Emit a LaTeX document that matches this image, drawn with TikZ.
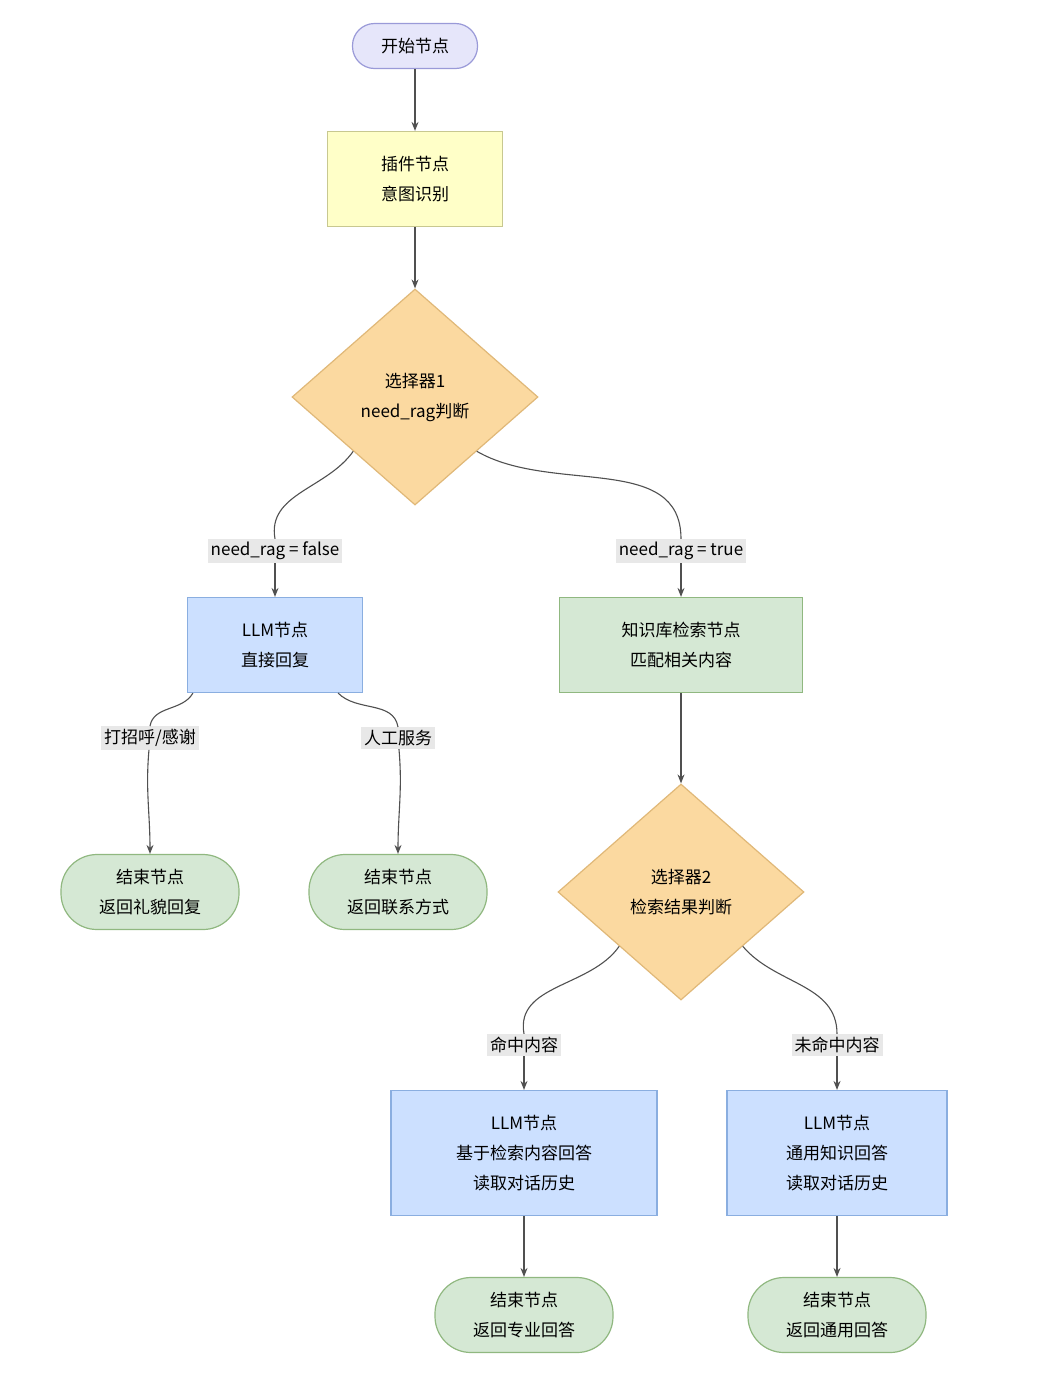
\documentclass[tikz,border=0pt]{standalone}
\usepackage{fontspec}
\setmainfont{Noto Sans CJK SC}
\usetikzlibrary{shapes.geometric,arrows.meta}
\definecolor{lavfill}{HTML}{E6E6FA}
\definecolor{lavline}{HTML}{9A9AD8}
\definecolor{yelfill}{HTML}{FFFFC8}
\definecolor{yelline}{HTML}{C8C890}
\definecolor{orgfill}{HTML}{FBD9A0}
\definecolor{orgline}{HTML}{E0B878}
\definecolor{blufill}{HTML}{CCE0FF}
\definecolor{bluline}{HTML}{8AAEE0}
\definecolor{grnfill}{HTML}{D5E8D4}
\definecolor{grnline}{HTML}{90B880}
\definecolor{labfill}{HTML}{E8E8E8}
\definecolor{edge}{HTML}{505050}

\tikzset{
  base/.style={align=center, font=\fontsize{17}{30}\selectfont, draw, line width=1.2pt, inner sep=0pt},
  pill/.style={base, rounded corners=36pt, fill=grnfill, draw=grnline, minimum width=178pt, minimum height=75pt},
  box/.style={base, minimum width=175pt, minimum height=95pt},
  choice/.style={base, diamond, aspect=1.14, fill=orgfill, draw=orgline, minimum width=246pt, minimum height=216pt},
  lab/.style={font=\fontsize{17}{20}\selectfont, fill=labfill, inner sep=3pt},
  link/.style={draw=edge, line width=1.1pt},
  arr/.style={link, -{Stealth[length=9pt,width=7pt]}}
}

\begin{document}
\begin{tikzpicture}[x=1pt,y=-1pt]
		\useasboundingbox[fill=white] (0,0) rectangle (1060,1374);

		% top of the flow
		\node[base, rounded corners=22pt, fill=lavfill, draw=lavline, minimum width=125pt, minimum height=45pt] (start) at (415,46) {开始节点};
		\node[box, fill=yelfill, draw=yelline] (plugin) at (415,179) {插件节点\\意图识别};
		\node[choice] (sel1) at (415,397) {选择器1\\need\_rag判断};

		% need_rag branches
		\node[lab] (labF) at (275,551) {need\_rag = false};
		\node[lab] (labT) at (681,551) {need\_rag = true};
		\node[box, fill=blufill, draw=bluline] (llmA) at (275,645) {LLM节点\\直接回复};
		\node[box, fill=grnfill, draw=grnline, minimum width=243pt] (kb) at (681,645) {知识库检索节点\\匹配相关内容};

		% direct reply ends
		\node[lab] (labHi) at (150,738) {打招呼/感谢};
		\node[lab] (labHum) at (398,738) {人工服务};
		\node[pill] (endA) at (150,892) {结束节点\\返回礼貌回复};
		\node[pill] (endB) at (398,892) {结束节点\\返回联系方式};

		% retrieval result
		\node[choice] (sel2) at (681,892) {选择器2\\检索结果判断};
		\node[lab] (labHit) at (524,1045) {命中内容};
		\node[lab] (labMiss) at (837,1045) {未命中内容};
		\node[box, fill=blufill, draw=bluline, minimum width=266pt, minimum height=125pt] (llmB) at (524,1153) {LLM节点\\基于检索内容回答\\读取对话历史};
		\node[box, fill=blufill, draw=bluline, minimum width=220pt, minimum height=125pt] (llmC) at (837,1153) {LLM节点\\通用知识回答\\读取对话历史};
		\node[pill] (endC) at (524,1315) {结束节点\\返回专业回答};
		\node[pill] (endD) at (837,1315) {结束节点\\返回通用回答};

		% connectors
		\draw[arr] (start) -- (plugin);
		\draw[arr] (plugin) -- (sel1);
		\draw[link] (sel1.south west) to[out=-125,in=100] (labF.north);
		\draw[arr] (labF) -- (llmA);
		\draw[link] (sel1.south east) to[out=-30,in=90] (labT.north);
		\draw[arr] (labT) -- (kb);
		\draw[link] ([xshift=6pt]llmA.south west) to[out=-120,in=80] (labHi.north);
		\draw[arr] (labHi) to[out=-95,in=90] (endA);
		\draw[link] ([xshift=-25pt]llmA.south east) to[out=-45,in=100] (labHum.north);
		\draw[arr] (labHum) to[out=-85,in=90] (endB);
		\draw[arr] (kb) -- (sel2);
		\draw[link] (sel2.south west) to[out=-125,in=100] (labHit.north);
		\draw[arr] (labHit) -- (llmB);
		\draw[link] (sel2.south east) to[out=-50,in=90] (labMiss.north);
		\draw[arr] (labMiss) -- (llmC);
		\draw[arr] (llmB) -- (endC);
		\draw[arr] (llmC) -- (endD);
\end{tikzpicture}
\end{document}
